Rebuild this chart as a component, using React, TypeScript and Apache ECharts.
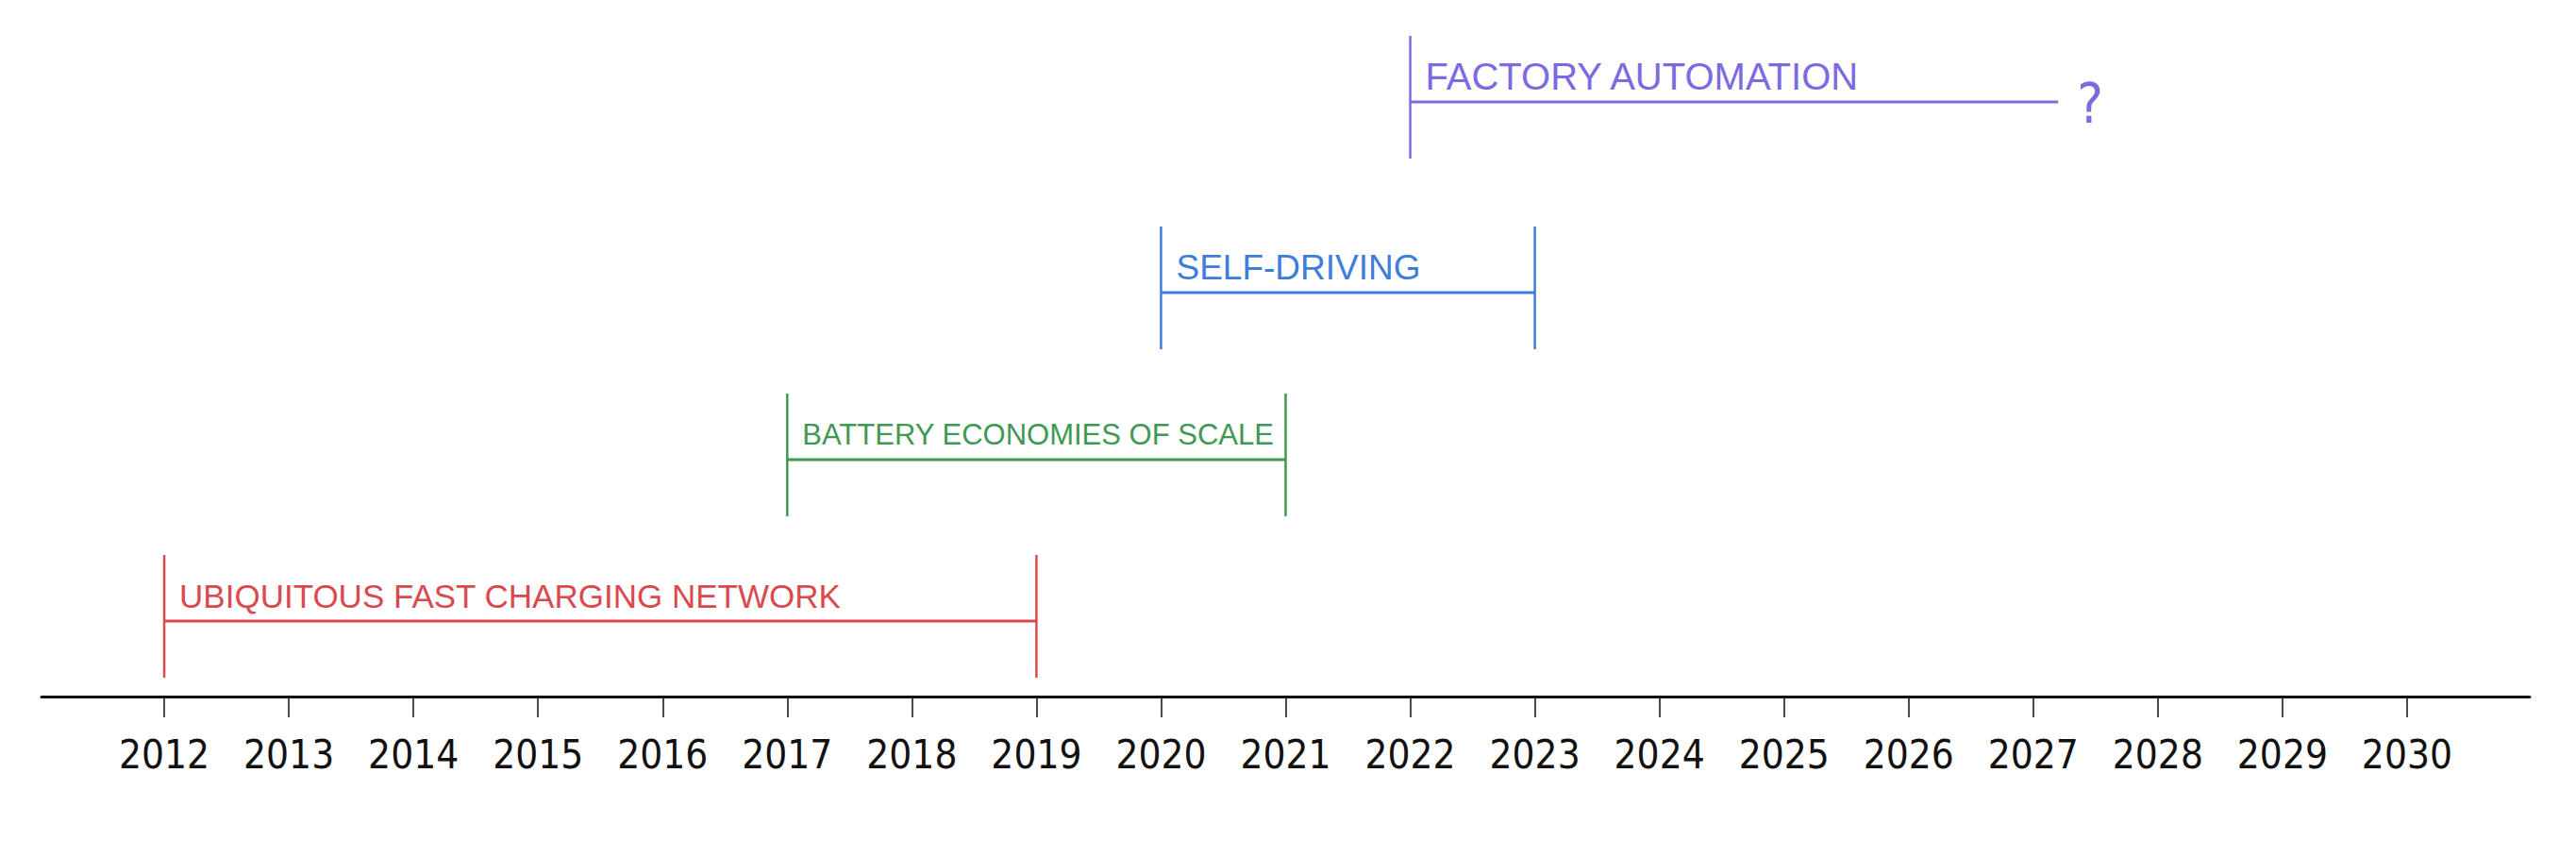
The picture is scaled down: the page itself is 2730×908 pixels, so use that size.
import React, { useEffect, useRef } from "react";
import * as echarts from "echarts";

// Timeline data
const milestones = [
  "UBIQUITOUS FAST CHARGING NETWORK",
  "BATTERY ECONOMIES OF SCALE",
  "SELF-DRIVING",
  "FACTORY AUTOMATION",
];
const startYears = [2012, 2017, 2020, 2022];
const endYears = [2019, 2021, 2023, 2027.2];
const levels = [0.8, 2.51, 4.28, 6.3];
const openEnded = [false, false, false, true];
const tickYears = [
  2012, 2013, 2014, 2015, 2016, 2017, 2018, 2019, 2020, 2021,
  2022, 2023, 2024, 2025, 2026, 2027, 2028, 2029, 2030,
];

// Styles
const colors = ["#d94a4f", "#3e9a52", "#3d7ddc", "#7b6ae0"];
const labelSizes = [35, 31, 37, 40];
const LABEL_FONT = '"Liberation Sans", Arial, sans-serif';
const NARROW_FONT = '"Liberation Sans Narrow", "DejaVu Sans Condensed", "Liberation Sans", sans-serif';

export default function App() {
  const ref = useRef<HTMLDivElement>(null);

  useEffect(() => {
    if (!ref.current) return;
    const chart = echarts.init(ref.current, undefined, { renderer: "svg" });

    const data = milestones.map((_, i) => [startYears[i], endYears[i], levels[i], i]);

    const option = {
      animation: false,
      backgroundColor: "#ffffff",
      grid: { left: 44, right: 49, top: 0, bottom: 170 },
      xAxis: {
        type: "value",
        min: 2011.015,
        max: 2030.985,
        splitLine: { show: false },
        axisLine: { show: true, lineStyle: { color: "#111111", width: 3 } },
        axisTick: {
          show: true,
          customValues: tickYears,
          length: 22,
          lineStyle: { color: "#111111", width: 1.5 },
        },
        axisLabel: {
          show: true,
          customValues: tickYears,
          margin: 40,
          color: "#111111",
          fontSize: 42,
          fontFamily: NARROW_FONT,
          formatter: (v: number) => String(Math.round(v)),
        },
      },
      yAxis: {
        type: "value",
        min: 0,
        max: 7.38,
        show: false,
        splitLine: { show: false },
      },
      series: [
        {
          type: "custom",
          clip: false,
          encode: { x: [0, 1], y: 2 },
          data,
          renderItem: (params: any, api: any) => {
            const i = params.dataIndex;
            const color = colors[i];
            const p0 = api.coord([api.value(0), api.value(2)]);
            const p1 = api.coord([api.value(1), api.value(2)]);
            const y = p0[1];
            const lw = 3;
            const children: any[] = [
              {
                type: "line",
                shape: { x1: p0[0], y1: y, x2: p1[0], y2: y },
                style: { stroke: color, lineWidth: lw },
              },
              {
                type: "line",
                shape: { x1: p0[0], y1: y - 70, x2: p0[0], y2: y + 60 },
                style: { stroke: color, lineWidth: 2.5 },
              },
              {
                type: "text",
                x: p0[0] + 16,
                y: y - 27,
                style: {
                  text: milestones[i],
                  fill: color,
                  fontSize: labelSizes[i],
                  fontFamily: LABEL_FONT,
                  align: "left",
                  verticalAlign: "middle",
                },
              },
            ];
            if (openEnded[i]) {
              children.push({
                type: "text",
                x: p1[0] + 34,
                y: y + 2,
                style: {
                  text: "?",
                  fill: color,
                  fontSize: 58,
                  fontFamily: NARROW_FONT,
                  align: "center",
                  verticalAlign: "middle",
                },
              });
            } else {
              children.push({
                type: "line",
                shape: { x1: p1[0], y1: y - 70, x2: p1[0], y2: y + 60 },
                style: { stroke: color, lineWidth: 2.5 },
              });
            }
            return { type: "group", children };
          },
        },
      ],
    };

    chart.setOption(option as any);
    return () => chart.dispose();
  }, []);

  return (
    <div
      ref={ref}
      style={{ position: "absolute", left: 0, top: 0, width: 2730, height: 908 }}
    />
  );
}
